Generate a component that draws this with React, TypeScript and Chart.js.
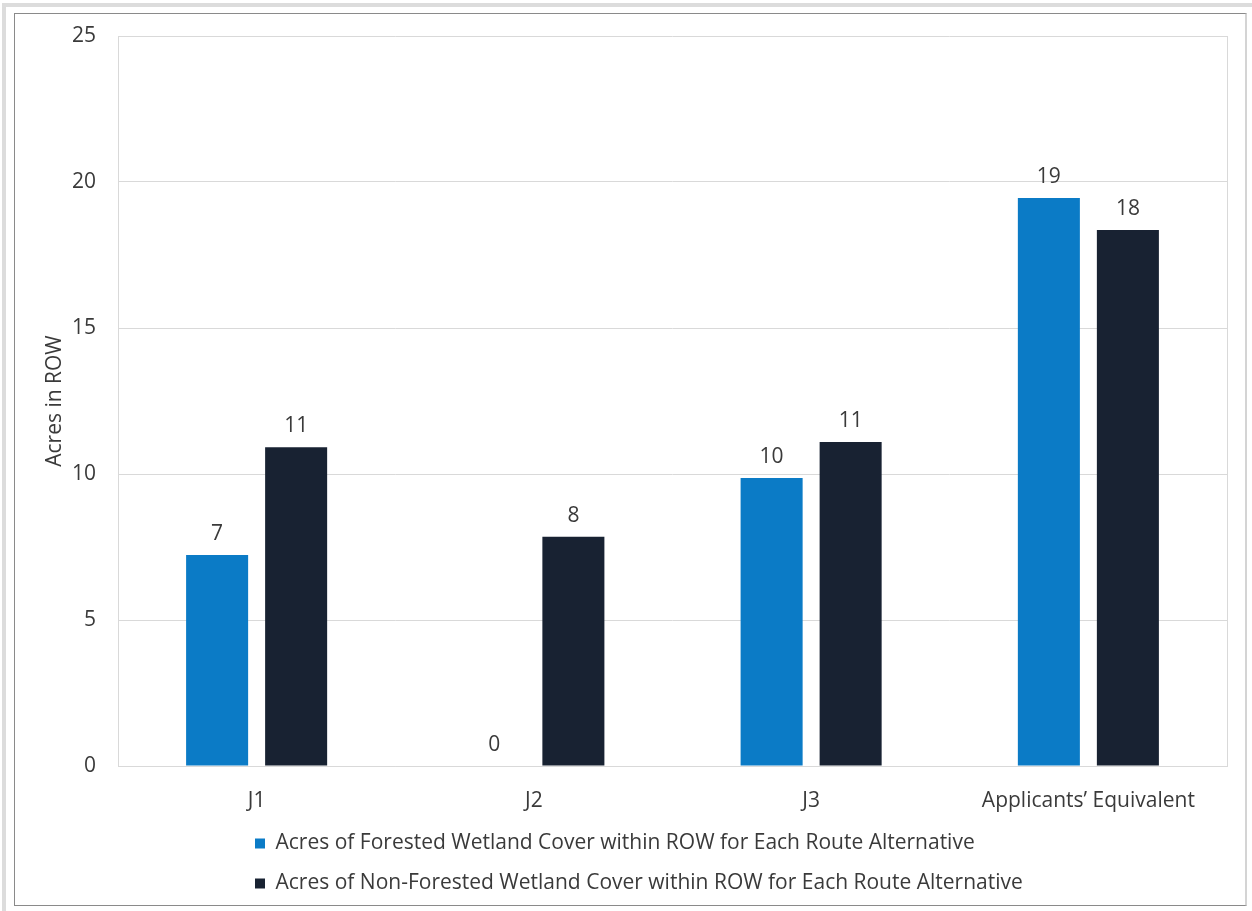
import React, { useEffect, useRef } from "react";
import { Chart, registerables } from "chart.js";

Chart.register(...registerables);

const categories = ["J1", "J2", "J3", "Applicants\u2019 Equivalent"];
const forestedValues = [7.23, 0, 9.86, 19.45];
const nonForestedValues = [10.92, 7.85, 11.1, 18.36];
const seriesLabels = [
  "Acres of Forested Wetland Cover within ROW for Each Route Alternative",
  "Acres of Non-Forested Wetland Cover within ROW for Each Route Alternative",
];
const yTicks = [0, 5, 10, 15, 20, 25];
const yTitle = "Acres in ROW";

const FONT = "'Open Sans', 'Noto Sans', sans-serif";
const FS = 21;
const TEXT = "#3a3a3a";

const valueLabels = {
  id: "valueLabels",
  afterDatasetsDraw(chart: any) {
    const ctx = chart.ctx;
    ctx.save();
    ctx.font = `${FS}px ${FONT}`;
    ctx.fillStyle = TEXT;
    ctx.textAlign = "center";
    ctx.textBaseline = "middle";
    chart.data.datasets.forEach((ds: any, di: number) => {
      const meta = chart.getDatasetMeta(di);
      meta.data.forEach((bar: any, i: number) => {
        const v = ds.data[i];
        ctx.fillText(String(Math.round(v)), bar.x, bar.y - 21);
      });
    });
    ctx.restore();
  },
};

const areaBorder = {
  id: "areaBorder",
  beforeDatasetsDraw(chart: any) {
    const { ctx, chartArea } = chart;
    ctx.save();
    ctx.strokeStyle = "#d9d9d9";
    ctx.lineWidth = 1;
    ctx.beginPath();
    ctx.moveTo(Math.round(chartArea.left) + 0.5, chartArea.top);
    ctx.lineTo(Math.round(chartArea.left) + 0.5, chartArea.bottom);
    ctx.moveTo(Math.round(chartArea.right) + 0.5, chartArea.top);
    ctx.lineTo(Math.round(chartArea.right) + 0.5, chartArea.bottom);
    ctx.stroke();
    ctx.restore();
  },
};

const legendShift = {
  id: "legendShift",
  afterLayout(chart: any) {
    if (chart.legend) {
      chart.legend.left = 221;
    }
  },
};

export default function App() {
  const ref = useRef<HTMLCanvasElement | null>(null);

  useEffect(() => {
    if (!ref.current) return;
    const chart = new Chart(ref.current, {
      type: "bar",
      data: {
        labels: categories,
        datasets: [
          {
            label: seriesLabels[0],
            data: forestedValues,
            backgroundColor: "#0b7bc6",
            categoryPercentage: 0.57,
            barPercentage: 0.785,
          },
          {
            label: seriesLabels[1],
            data: nonForestedValues,
            backgroundColor: "#182232",
            categoryPercentage: 0.57,
            barPercentage: 0.785,
          },
        ],
      },
      options: {
        responsive: false,
        animation: false,
        devicePixelRatio: 1,
        layout: { padding: { left: 27, right: 18, top: 22, bottom: 1 } },
        plugins: {
          tooltip: { enabled: false },
          legend: {
            position: "bottom",
            align: "start",
            labels: {
              boxWidth: 10,
              boxHeight: 10,
              padding: 19,
              color: TEXT,
              font: { family: FONT, size: FS },
            },
          },
        },
        scales: {
          x: {
            grid: { display: false, drawTicks: false },
            border: { display: true, color: "#d9d9d9" },
            ticks: { color: TEXT, padding: 22, font: { family: FONT, size: FS } },
            afterFit(axis: any) {
              axis.height = 48;
              axis.paddingLeft = 0;
              axis.paddingRight = 0;
            },
          },
          y: {
            min: 0,
            max: 25,
            afterBuildTicks(axis: any) {
              axis.ticks = yTicks.map((v) => ({ value: v }));
            },
            afterFit(axis: any) {
              axis.width = 76;
              axis.paddingTop = 0;
              axis.paddingBottom = 0;
            },
            grid: { color: "#d9d9d9", drawTicks: false },
            border: { display: false },
            ticks: { color: TEXT, padding: 22, font: { family: FONT, size: FS } },
            title: {
              display: true,
              text: yTitle,
              color: TEXT,
              padding: { top: 0, bottom: 0 },
              font: { family: FONT, size: FS },
            },
          },
        },
      },
      plugins: [valueLabels, areaBorder, legendShift],
    });
    return () => chart.destroy();
  }, []);

  return (
    <div style={{ position: "absolute", left: 0, top: 0, width: 1252, height: 911, background: "#fff" }}>
      <div
        style={{
          position: "absolute",
          left: 2,
          top: 3,
          width: 1250,
          height: 908,
          borderLeft: "4px solid #dcdcdc",
          borderTop: "4px solid #dcdcdc",
          boxSizing: "border-box",
        }}
      />
      <div
        style={{
          position: "absolute",
          left: 14,
          top: 13,
          width: 1233,
          height: 893,
          borderLeft: "1px solid #8a8a8a",
          borderTop: "1px solid #8a8a8a",
          borderBottom: "1px solid #8a8a8a",
          borderRight: "2px solid #d4d4d4",
          boxSizing: "border-box",
        }}
      >
        <canvas ref={ref} width={1230} height={891} style={{ display: "block" }} />
      </div>
    </div>
  );
}
